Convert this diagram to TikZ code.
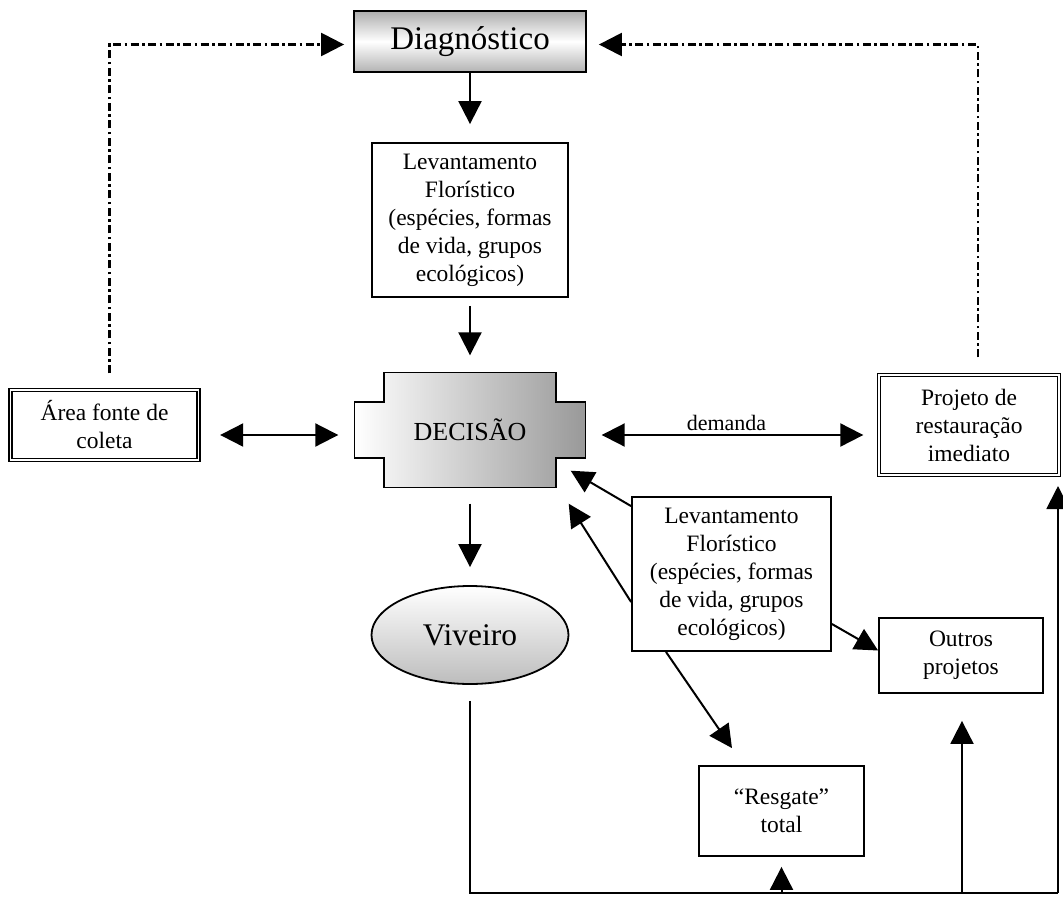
\documentclass[tikz,border=0pt]{standalone}
\usepackage{fontspec}
\setmainfont{Liberation Serif}
\usetikzlibrary{arrows.meta,calc,shapes.geometric}
\begin{document}
\begin{tikzpicture}[x=1pt,y=-1pt,
  box/.style={draw, line width=1.8pt, align=center, inner sep=0pt,
    font=\fontsize{23.5}{28}\selectfont},
  dbox/.style={box, double, double distance=1.8pt, line width=1.3pt},
  arr/.style={line width=2pt, -{Triangle[length=23pt,width=23pt]}},
  darr/.style={line width=2pt, {Triangle[length=23pt,width=23pt]}-{Triangle[length=23pt,width=23pt]}},
  dd/.style={line width=2.4pt, dash pattern=on 8pt off 3.5pt on 2.5pt off 3.5pt,
    -{Triangle[length=23pt,width=23pt]}},
  plain/.style={line width=2pt}]
\useasboundingbox (0,0) rectangle (1063,897);

% Diagnostico
\node[box, minimum width=232pt, minimum height=61pt,
  top color=black!32, bottom color=black!30, middle color=white,
  font=\fontsize{33}{38}\selectfont] (diag) at (470,41.5) {Diagnóstico};

% Levantamento 1
\node[box, minimum width=196pt, minimum height=154pt] (lev1) at (470,220)
  {Levantamento\\Florístico\\(espécies, formas\\de vida, grupos\\ecológicos)};

% DECISAO cross shape
\coordinate (dc) at (470,430);
\begin{scope}[shift={(dc)}]
\shadedraw[left color=white, right color=black!40, line width=1.8pt]
 (-86,-57.5) -- (86,-57.5) -- (86,-28) -- (115.5,-28) -- (115.5,28) -- (86,28)
 -- (86,57.5) -- (-86,57.5) -- (-86,28) -- (-115.5,28) -- (-115.5,-28) -- (-86,-28) -- cycle;
\end{scope}
\node[minimum width=231pt, minimum height=115pt, inner sep=0pt,
  font=\fontsize{26}{30}\selectfont] (decisao) at (dc) {DECISÃO};

% Viveiro
\node[ellipse, draw, line width=1.8pt, minimum width=197pt, minimum height=98pt,
  inner sep=0pt, top color=white, bottom color=black!26,
  font=\fontsize{31.5}{36}\selectfont] (viveiro) at (470,635) {Viveiro};

% Area fonte
\node[dbox, minimum width=188pt, minimum height=70pt] (area) at (104.5,425)
  {Área fonte de\\coleta};

% Projeto
\node[dbox, minimum width=180pt, minimum height=100pt] (proj) at (969,425)
  {Projeto de\\restauração\\imediato};

% Levantamento 2
\node[box, minimum width=199pt, minimum height=154pt, fill=white] (lev2) at (731.5,574)
  {Levantamento\\Florístico\\(espécies, formas\\de vida, grupos\\ecológicos)};

% Outros projetos
\node[box, minimum width=164pt, minimum height=75pt] (outros) at (961,655.5)
  {Outros\\projetos};

% Resgate
\node[box, minimum width=165pt, minimum height=90pt] (resgate) at (781.5,811)
  {“Resgate”\\total};

% vertical flow
\draw[arr] (diag.south) -- ($(lev1.north)+(0,-18)$);
\draw[arr] ($(lev1.south)+(0,8)$) -- ($(decisao.north)+(0,-17)$);
\draw[arr] ($(decisao.south)+(0,16)$) -- ($(viveiro.north)+(0,-18)$);

% horizontal double arrows
\draw[darr] ($(area.east |- dc)+(21,5)$) -- ($(decisao.west)+(-16,5)$);
\draw[darr] ($(decisao.east)+(16,5)$) -- node[above=2pt, inner sep=1pt,
  font=\fontsize{22}{26}\selectfont, xshift=-6pt] {demanda} ($(proj.west |- dc)+(-15,5)$);

% dash-dot feedback
\draw[dd, shorten >=9pt] ($(area.north)+(5,-16)$) |- ($(diag.west)+(0,3)$);
\draw[dd, shorten >=12pt] ($(proj.north)+(9,-17)$) |- ($(diag.east)+(0,3)$);

% from Levantamento 2
\draw[arr] ($(lev2.north west)+(0,10)$) -- ($(decisao.south east)+(-15,-17)$);
\draw[arr] ($(lev2.west)+(0,28)$) -- ($(decisao.south east)+(-17,16)$);
\draw[arr] ($(lev2.east)+(0,50)$) -- ($(outros.west)+(0,-5)$);
\draw[arr] ($(lev2.south)+(-65.5,0)$) -- ($(resgate.north)+(-49.5,-17)$);

% bottom distribution line
\coordinate (bl) at (470,893);
\draw[plain] ($(viveiro.south)+(0,16)$) -- (bl) -- (1058,893);
\draw[arr] (resgate.south |- bl) -- ($(resgate.south)+(0,10)$);
\draw[arr] ($(outros.south |- bl)+(1,0)$) -- ($(outros.south)+(1,27)$);
\draw[arr] (1058,893) -- (1058,486);
\end{tikzpicture}
\end{document}
